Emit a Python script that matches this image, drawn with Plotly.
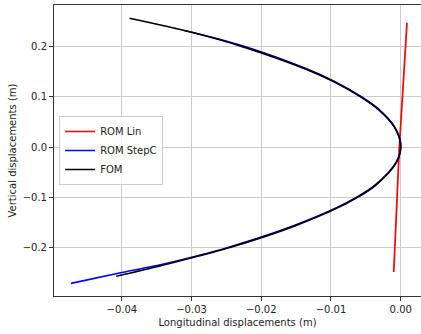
import plotly.graph_objects as go

# Data
fom_x = [-0.0389, -0.0300, -0.0226, -0.0135, -0.0095, -0.0057, -0.0031, -0.0009, 0.0000,
         -0.0006, -0.0036, -0.0062, -0.0092, -0.0150, -0.0201, -0.0250, -0.0290, -0.0343, -0.0408]
fom_y = [0.257, 0.229, 0.200, 0.155, 0.130, 0.100, 0.074, 0.040, 0.004,
         -0.030, -0.076, -0.100, -0.122, -0.156, -0.181, -0.202, -0.217, -0.236, -0.2575]

stepc_x = [-0.0310, -0.0226, -0.0135, -0.0095, -0.0057, -0.0031, -0.0009, 0.0000,
           -0.0006, -0.0036, -0.0062, -0.0092, -0.0150, -0.0201, -0.0250, -0.0290, -0.0343, -0.0400, -0.0473]
stepc_y = [0.2325, 0.2015, 0.156, 0.131, 0.101, 0.075, 0.041, 0.005,
           -0.029, -0.075, -0.099, -0.121, -0.155, -0.180, -0.201, -0.216, -0.234, -0.250, -0.2715]

lin_x = [-0.0010, -0.0002, 0.0009]
lin_y = [-0.249, 0.000, 0.248]

x_ticks = [-0.04, -0.03, -0.02, -0.01, 0.00]
y_ticks = [-0.2, -0.1, 0.0, 0.1, 0.2]

fig = go.Figure()
fig.add_trace(go.Scatter(x=lin_x, y=lin_y, mode="lines", name="ROM Lin",
                         line=dict(color="#ff0000", width=1.7)))
fig.add_trace(go.Scatter(x=stepc_x, y=stepc_y, mode="lines", name="ROM StepC",
                         line=dict(color="#0000ff", width=1.7, shape="spline")))
fig.add_trace(go.Scatter(x=fom_x, y=fom_y, mode="lines", name="FOM",
                         line=dict(color="#000000", width=1.7, shape="spline")))

axis_common = dict(showgrid=True, gridcolor="#cccccc", gridwidth=1, zeroline=False,
                   showline=True, linecolor="#333333", linewidth=1,
                   ticks="outside", ticklen=4, tickcolor="#333333", automargin=False,
                   tickfont=dict(family="DejaVu Sans", size=10, color="#222"))

fig.update_layout(
    width=421, height=334,
    margin=dict(l=54, r=0, t=5, b=38),
    plot_bgcolor="white", paper_bgcolor="white",
    font=dict(family="DejaVu Sans", size=10, color="#222"),
    xaxis=dict(range=[-0.04973, 0.00291], tickvals=x_ticks, tickformat=".2f",
               mirror=True,
               title=dict(text="Longitudinal displacements (m)", standoff=4,
                          font=dict(size=10)),
               **axis_common),
    yaxis=dict(range=[-0.2968, 0.2834], tickvals=y_ticks, tickformat=".1f",
               title=dict(text="Vertical displacements (m)", standoff=4,
                          font=dict(size=10)),
               **axis_common),
    legend=dict(x=0.014, y=0.5, xanchor="left", yanchor="middle",
                bgcolor="rgba(255,255,255,0.8)", bordercolor="#cccccc", borderwidth=1,
                font=dict(size=10), itemwidth=30, tracegroupgap=0),
    showlegend=True,
)

fig.write_html("out.html", config={"displayModeBar": False})

# remove the browser's default body margin so the figure sits at the page origin
with open("out.html", encoding="utf-8") as f:
    html = f.read()
html = html.replace("<body>", '<body style="margin:0;padding:0;overflow:hidden">', 1)
with open("out.html", "w", encoding="utf-8") as f:
    f.write(html)
